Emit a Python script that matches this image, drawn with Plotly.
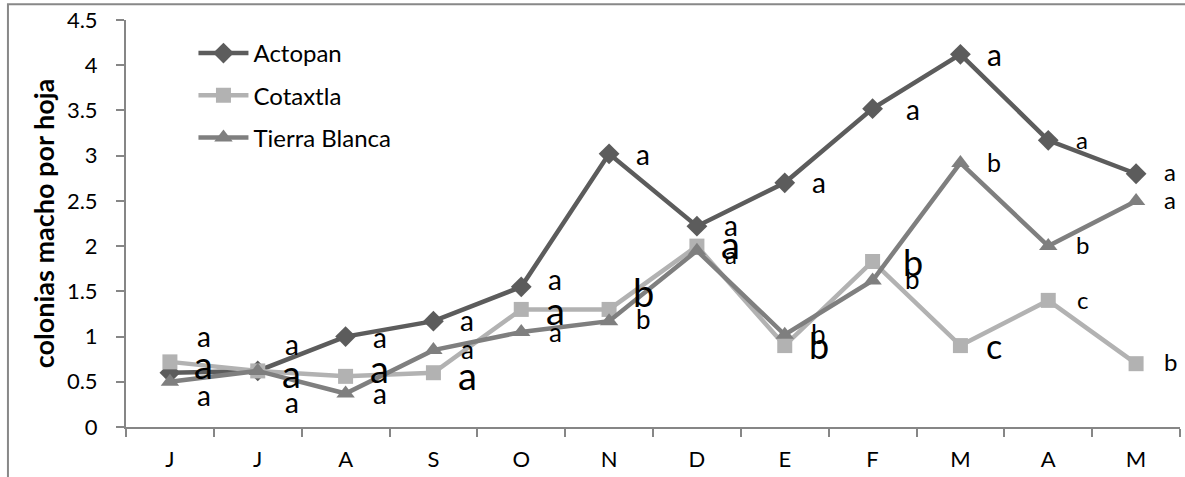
import plotly.graph_objects as go

months = ["J", "J", "A", "S", "O", "N", "D", "E", "F", "M", "A", "M"]
actopan = [0.60, 0.62, 1.00, 1.17, 1.55, 3.02, 2.22, 2.70, 3.52, 4.12, 3.17, 2.80]
cotaxtla = [0.72, 0.62, 0.56, 0.60, 1.30, 1.30, 2.00, 0.90, 1.83, 0.90, 1.40, 0.70]
tierra_blanca = [0.50, 0.62, 0.37, 0.85, 1.05, 1.17, 1.95, 1.02, 1.62, 2.92, 2.00, 2.50]

# significance letters: (month index, y value, letter, size)
letters = [
    (0, 0.975, "a", 28), (0, 0.665, "a", 38), (0, 0.32, "a", 28),
    (1, 0.886, "a", 28), (1, 0.565, "a", 38), (1, 0.244, "a", 28),
    (2, 0.963, "a", 28), (2, 0.62, "a", 38), (2, 0.343, "a", 28),
    (3, 1.152, "a", 28), (3, 0.83, "a", 26), (3, 0.543, "a", 38),
    (4, 1.606, "a", 28), (4, 1.262, "a", 38), (4, 1.019, "a", 26),
    (5, 2.99, "a", 28), (5, 1.462, "b", 38), (5, 1.163, "b", 26),
    (6, 2.204, "a", 28), (6, 1.993, "a", 38), (6, 1.872, "a", 24),
    (7, 2.68, "a", 28), (7, 0.997, "b", 26), (7, 0.875, "b", 36),
    (8, 3.488, "a", 28), (8, 1.794, "b", 36), (8, 1.606, "b", 26),
    (9, 4.086, "a", 30), (9, 2.90, "b", 25), (9, 0.864, "c", 34),
    (10, 3.145, "a", 24), (10, 1.982, "b", 24), (10, 1.373, "c", 24),
    (11, 2.79, "a", 24), (11, 2.48, "a", 24), (11, 0.687, "b", 24),
]

xs = list(range(len(months)))
FONT = "Lato"

fig = go.Figure()
fig.add_trace(go.Scatter(
    x=xs, y=actopan, name="Actopan", mode="lines+markers", legendgroup="a",
    line=dict(color="#5c5c5c", width=4.5),
    marker=dict(symbol="diamond", size=16, color="#5c5c5c")))
fig.add_trace(go.Scatter(
    x=xs, y=cotaxtla, name="Cotaxtla", mode="lines+markers", legendgroup="c",
    line=dict(color="#b2b2b2", width=4.5),
    marker=dict(symbol="square", size=15, color="#b2b2b2")))
fig.add_trace(go.Scatter(
    x=xs, y=tierra_blanca, name="Tierra Blanca", mode="lines+markers", legendgroup="t",
    line=dict(color="#7f7f7f", width=4.5),
    marker=dict(symbol="triangle-up", size=16, color="#7f7f7f")))

for i, yv, t, s in letters:
    dx = 40 if i == 8 else 34
    fig.add_annotation(x=i, y=yv, text=t, showarrow=False, xshift=dx, yshift=3,
                       font=dict(family=FONT, size=s, color="#000000"))

fig.add_shape(type="rect", xref="paper", yref="paper",
              x0=-0.112, x1=1.012, y0=-0.14, y1=1.039,
              line=dict(color="#888888", width=2), fillcolor="rgba(0,0,0,0)")

fig.update_layout(
    width=1185, height=477,
    margin=dict(l=126, r=5, t=20, b=50, autoexpand=False),
    paper_bgcolor="white", plot_bgcolor="white",
    font=dict(family=FONT, size=22, color="#000000"),
    showlegend=True,
    legend=dict(x=0.064, y=0.973, xanchor="left", yanchor="top",
                bgcolor="rgba(0,0,0,0)", font=dict(size=24, family=FONT),
                tracegroupgap=8, itemwidth=50),
    xaxis=dict(range=[-0.5, 11.5], tickmode="array", tickvals=xs, ticktext=months,
               ticks="", showgrid=False, zeroline=False, automargin=False,
               showline=True, linecolor="#868686", linewidth=2,
               ticklabelstandoff=12, tickfont=dict(size=22),
               minor=dict(tick0=-0.5, dtick=1, ticks="outside", ticklen=8,
                          tickcolor="#868686", tickwidth=2, showgrid=False)),
    yaxis=dict(range=[0, 4.5], dtick=0.5, ticks="outside", ticklen=8,
               tickcolor="#868686", tickwidth=2, showgrid=False, zeroline=False,
               showline=True, linecolor="#868686", linewidth=2, automargin=False,
               ticklabelstandoff=14, tickfont=dict(size=22),
               title=dict(text="<b>colonias macho por hoja</b>", standoff=4,
                          font=dict(size=27, family=FONT))),
)

fig.write_html("out.html", config={"displayModeBar": False},
               post_script="document.body.style.margin='0';")
